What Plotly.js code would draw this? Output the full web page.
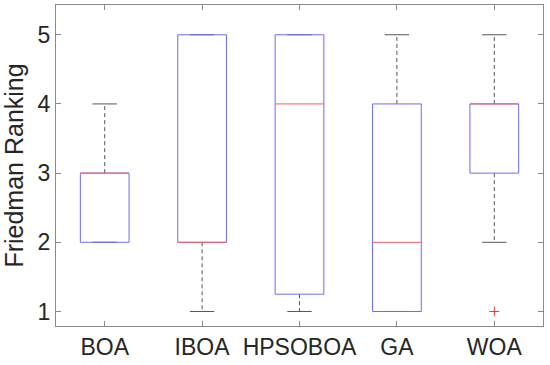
<!DOCTYPE html>
<html>
<head>
<meta charset="utf-8">
<script src="https://cdn.plot.ly/plotly-3.0.1.min.js"></script>
<style>html,body{margin:0;padding:0;background:#fff;}#chart{width:550px;height:365px;}</style>
</head>
<body>
<div id="chart"></div>
<script>
const categories = ['BOA', 'IBOA', 'HPSOBOA', 'GA', 'WOA'];
const q1 = [2, 2, 1.25, 1, 3];
const medians = [3, 2, 4, 2, 4];
const q3 = [3, 5, 5, 4, 4];
const lowerWhisker = [2, 1, 1, 1, 2];
const upperWhisker = [4, 5, 5, 5, 5];
const outlierCategory = ['WOA'];
const outlierValue = [1];

const pos = categories.map((c, i) => i + 1);
const halfBox = 0.25, halfCap = 0.125;

// whiskers (dashed)
const wx = [], wy = [];
pos.forEach((p, i) => {
  if (upperWhisker[i] > q3[i]) { wx.push(p, p, null); wy.push(q3[i], upperWhisker[i], null); }
  if (lowerWhisker[i] < q1[i]) { wx.push(p, p, null); wy.push(q1[i], lowerWhisker[i], null); }
});
// caps
const cx = [], cy = [];
pos.forEach((p, i) => {
  cx.push(p - halfCap, p + halfCap, null); cy.push(upperWhisker[i], upperWhisker[i], null);
  cx.push(p - halfCap, p + halfCap, null); cy.push(lowerWhisker[i], lowerWhisker[i], null);
});
// boxes
const bx = [], by = [];
pos.forEach((p, i) => {
  bx.push(p - halfBox, p + halfBox, p + halfBox, p - halfBox, p - halfBox, null);
  by.push(q1[i], q1[i], q3[i], q3[i], q1[i], null);
});
// medians
const mx = [], my = [];
pos.forEach((p, i) => { mx.push(p - halfBox, p + halfBox, null); my.push(medians[i], medians[i], null); });

const ox = outlierCategory.map(c => categories.indexOf(c) + 1);

const traces = [
  {x: wx, y: wy, mode: 'lines', line: {color: '#555555', width: 1, dash: '4px,3px'}, hoverinfo: 'skip'},
  {x: cx, y: cy, mode: 'lines', line: {color: '#555555', width: 1}, hoverinfo: 'skip'},
  {x: bx, y: by, mode: 'lines', line: {color: '#6a6aff', width: 1}, hoverinfo: 'skip'},
  {x: mx, y: my, mode: 'lines', line: {color: '#ff5a5a', width: 1}, hoverinfo: 'skip'},
  {x: ox, y: outlierValue, mode: 'markers', marker: {symbol: 'cross-thin', size: 7, line: {color: '#ff3030', width: 1}}, hoverinfo: 'skip'}
];

const axisCommon = {
  showline: true, linecolor: '#8a8a8a', linewidth: 1, mirror: 'ticks',
  ticks: 'inside', ticklen: 5, tickcolor: '#8a8a8a', tickwidth: 1,
  showgrid: false, zeroline: false,
  tickfont: {family: 'Liberation Sans, Arial, sans-serif', size: 23, color: '#262626'}
};

const layout = {
  width: 550, height: 365,
  margin: {l: 56, r: 7, t: 5, b: 39},
  paper_bgcolor: '#ffffff', plot_bgcolor: '#ffffff',
  showlegend: false,
  xaxis: Object.assign({}, axisCommon, {
    range: [0.5, 5.5], tickmode: 'array', tickvals: pos, ticktext: categories
  }),
  yaxis: Object.assign({}, axisCommon, {
    range: [0.79, 5.43], tickmode: 'array', tickvals: [1, 2, 3, 4, 5],
    title: {text: 'Friedman Ranking', font: {family: 'Liberation Sans, Arial, sans-serif', size: 25, color: '#262626'}, standoff: 6}
  })
};

Plotly.newPlot('chart', traces, layout, {staticPlot: true, displayModeBar: false});
</script>
</body>
</html>
